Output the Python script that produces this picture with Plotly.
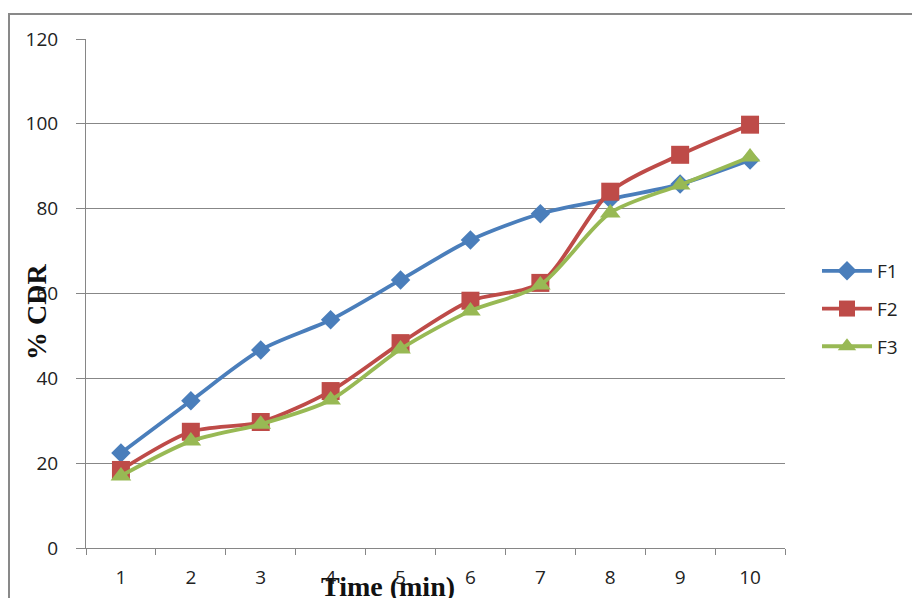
import plotly.graph_objects as go

# Dissolution data: cumulative drug release (%) over time
time_min = ["1", "2", "3", "4", "5", "6", "7", "8", "9", "10"]
f1 = [22.4, 34.7, 46.7, 53.8, 63.2, 72.6, 78.8, 82.3, 85.8, 91.5]
f2 = [18.4, 27.4, 29.7, 37.0, 48.3, 58.3, 62.5, 84.0, 92.7, 99.8]
f3 = [17.0, 25.2, 29.2, 34.9, 46.9, 55.9, 62.0, 79.0, 85.6, 92.2]
series_names = ["F1", "F2", "F3"]

colors = ["#4A7EBB", "#BE4B48", "#98B954"]
symbols = ["diamond", "square", "triangle-up"]
sizes = [15, 18, 18]

W, H = 912, 598
L, R, T, B = 86, 785, 39, 548

fig = go.Figure()
for name, vals, c, s, sz in zip(series_names, [f1, f2, f3], colors, symbols, sizes):
    fig.add_trace(go.Scatter(
        x=time_min, y=vals, name=name, legendgroup=name,
        mode="lines+markers",
        line=dict(color=c, width=3.8, shape="spline", smoothing=0.8),
        marker=dict(symbol=s, size=sz, color=c, line=dict(width=0)),
    ))

pw, ph = R - L, B - T

def px_x(x):
    return (x - L) / pw

def px_y(y):
    return (B - y) / ph

axis_font = dict(family="Open Sans, Liberation Sans, sans-serif", size=19, color="#222222")

fig.update_layout(
    width=W, height=H,
    margin=dict(l=L, r=W - R, t=T, b=H - B, autoexpand=False),
    paper_bgcolor="white", plot_bgcolor="white",
    showlegend=True,
    legend=dict(
        x=px_x(817), y=px_y(252), xanchor="left", yanchor="top",
        font=axis_font, tracegroupgap=10, traceorder="grouped",
        bgcolor="rgba(0,0,0,0)", itemwidth=50,
    ),
    xaxis=dict(
        type="category", categoryorder="array", categoryarray=time_min,
        range=[-0.5, 9.5], autorange=False,
        showgrid=False, showline=True, linecolor="#868686", linewidth=1,
        ticks="outside", tickson="boundaries", ticklen=6, tickcolor="#868686",
        tickfont=axis_font, ticklabelstandoff=12, zeroline=False,
    ),
    yaxis=dict(
        range=[0, 120], autorange=False, tickvals=[0, 20, 40, 60, 80, 100, 120],
        showgrid=True, gridcolor="#878787", gridwidth=1,
        showline=True, linecolor="#868686", linewidth=1,
        ticks="outside", ticklen=9, tickcolor="#868686",
        tickfont=axis_font, ticklabelstandoff=14, zeroline=False,
    ),
    shapes=[dict(
        type="rect", xref="paper", yref="paper",
        x0=px_x(9), x1=px_x(960), y0=px_y(640), y1=px_y(14),
        line=dict(color="#898989", width=2), fillcolor="rgba(0,0,0,0)",
        layer="below",
    )],
    annotations=[
        dict(text="<b>% CDR</b>", xref="paper", yref="paper",
             x=px_x(36), y=px_y(312), xanchor="center", yanchor="middle",
             textangle=-90, showarrow=False,
             font=dict(family="Liberation Serif, Times New Roman, serif", size=28, color="#111111")),
        dict(text="<b>Time (min)</b>", xref="paper", yref="paper",
             x=px_x(388), y=px_y(586), xanchor="center", yanchor="middle",
             showarrow=False,
             font=dict(family="Liberation Serif, Times New Roman, serif", size=28, color="#111111")),
    ],
)

fig.write_html("out.html")
